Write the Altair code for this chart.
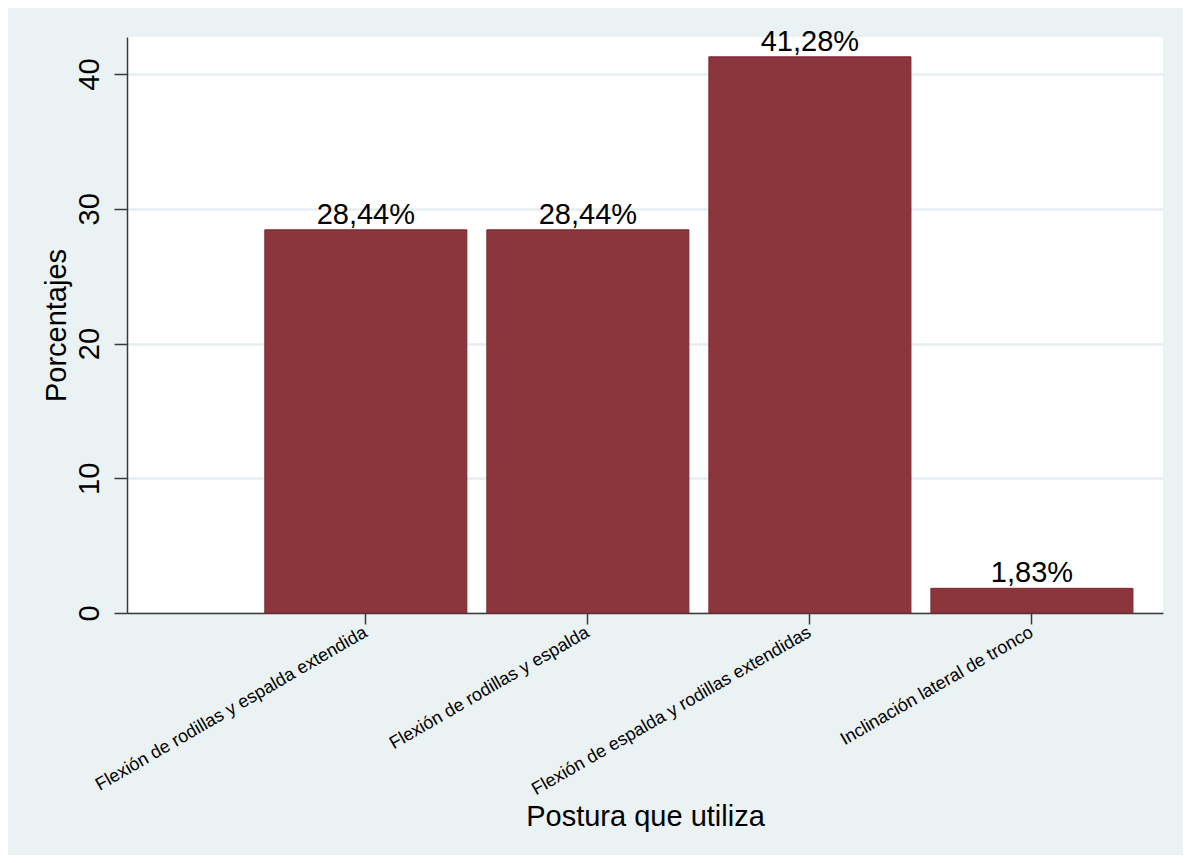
import altair as alt
import pandas as pd

categories = [
    "Flexión de rodillas y espalda extendida",
    "Flexión de rodillas y espalda",
    "Flexión de espalda y rodillas extendidas",
    "Inclinación lateral de tronco",
]
values = [28.44, 28.44, 41.28, 1.83]
value_labels = ["28,44%", "28,44%", "41,28%", "1,83%"]
y_ticks = [0, 10, 20, 30, 40]

df = pd.DataFrame({"cat": categories, "val": values, "lab": value_labels})

FONT = "Liberation Sans"
BAR = "#8C353D"
GRID = "#E6EEF1"
AXIS = "#3a3a3a"

x = alt.X(
    "cat:N",
    sort=categories,
    title="Postura que utiliza",
    scale=alt.Scale(paddingInner=0.09, paddingOuter=0.378, align=0.821),
    axis=alt.Axis(
        labelAngle=330,
        labelAlign="right",
        labelBaseline="middle",
        labelFontSize=18,
        labelPadding=7,
        labelLimit=0,
        labelOverlap=False,
        tickSize=11,
        tickColor=AXIS,
        tickWidth=1.5,
        domainColor=AXIS,
        domainWidth=1.5,
        titleFontSize=29,
        titlePadding=4,
        grid=False,
    ),
)
y = alt.Y(
    "val:Q",
    title="Porcentajes",
    scale=alt.Scale(domain=[0, 42.75], nice=False, zero=True),
    axis=alt.Axis(
        values=y_ticks,
        labelAngle=270,
        labelAlign="center",
        labelBaseline="bottom",
        labelFontSize=29,
        labelPadding=10,
        tickSize=13,
        tickColor=AXIS,
        tickWidth=1.5,
        domainColor=AXIS,
        domainWidth=1.5,
        titleFontSize=29,
        titlePadding=4,
        grid=True,
        gridColor=GRID,
        gridWidth=2.5,
    ),
)

bars = alt.Chart(df).mark_bar(color=BAR, stroke="#7A2A32", strokeWidth=1).encode(x=x, y=y)
text = alt.Chart(df).mark_text(
    baseline="alphabetic", dy=-6, fontSize=29, font=FONT, color="black"
).encode(x=alt.X("cat:N", sort=categories), y="val:Q", text="lab:N")

chart = (
    alt.layer(bars, text)
    .properties(
        width=1036,
        height=576,
        autosize=alt.AutoSizeParams(type="none"),
        padding={"left": 119, "top": 29, "right": 20, "bottom": 242},
        background="#EAF2F3",
    )
    .configure_view(fill="white", stroke=None)
    .configure_axis(
        labelFont=FONT,
        titleFont=FONT,
        labelColor="black",
        titleColor="black",
        titleFontWeight="normal",
    )
)

chart.save("out.html", embed_options={"renderer": "svg", "actions": False})
